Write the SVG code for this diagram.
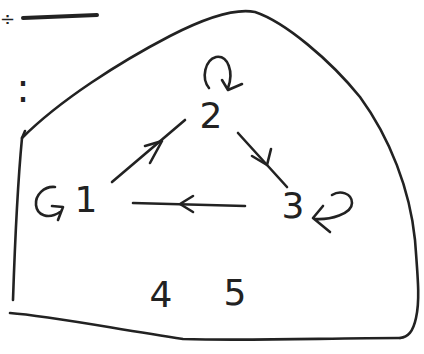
<svg xmlns="http://www.w3.org/2000/svg" width="424" height="354" viewBox="0 0 424 354">
<style>
.ink{fill:none;stroke:#222;stroke-width:2.6;stroke-linecap:round;stroke-linejoin:round}
.lbl{font-family:"DejaVu Sans","Liberation Sans",sans-serif;fill:#222;font-size:36px;text-anchor:middle}
</style>
<rect width="424" height="354" fill="#fff"/>
<g id="frame">
<path class="ink" d="M22,138 C60,100 120,62 170,36 C205,18 235,8 255,12 C285,22 330,60 360,97 C390,138 410,190 415,240 C418,280 420,300 416,318 C413,332 408,337 400,338"/>
<path class="ink" d="M10,313 C50,316 110,328 183,339 C250,341 330,338 400,338"/>
<path class="ink" d="M13,300 C15,240 18,180 22,138 L25,131"/>
</g>
<g id="marks">
<text x="0" y="25" style="font-family:'DejaVu Sans',sans-serif;font-size:18px;fill:#222">÷</text>
<path class="ink" d="M23,18 L97,15" style="stroke-width:4"/>
<text x="23" y="102" style="font-family:'DejaVu Sans',sans-serif;font-size:40px;fill:#222;text-anchor:middle">:</text>
</g>
<g id="node-1">
<text class="lbl" x="86" y="212">1</text>
<path class="ink" d="M55,187 C44,186 35,195 36,205 C37,215 48,220 60,212 M52,206 L63,207 L58,220"/>
</g>
<g id="node-2">
<text class="lbl" x="211" y="128">2</text>
<path class="ink" d="M209,88 C201,78 205,60 216,57 C228,55 234,72 228,88 M222,80 L228,90 L242,84"/>
</g>
<g id="node-3">
<text class="lbl" x="293" y="218">3</text>
<path class="ink" d="M315,219 C330,220 352,214 352,203 C352,193 340,190 332,195 M323,206 L313,218 L330,232"/>
</g>
<g id="node-4"><text class="lbl" x="161" y="307">4</text></g>
<g id="node-5"><text class="lbl" x="235" y="305">5</text></g>
<g id="connectors">
<path class="ink" d="M112,182 L185,120"/>
<path class="ink" d="M145,146 L162,141 L150,163"/>
<path class="ink" d="M238,133 L287,187"/>
<path class="ink" d="M252,156 L267,165 L271,149"/>
<path class="ink" d="M245,206 L133,203"/>
<path class="ink" d="M193,196 L180,204 L193,212"/>
</g>
</svg>
